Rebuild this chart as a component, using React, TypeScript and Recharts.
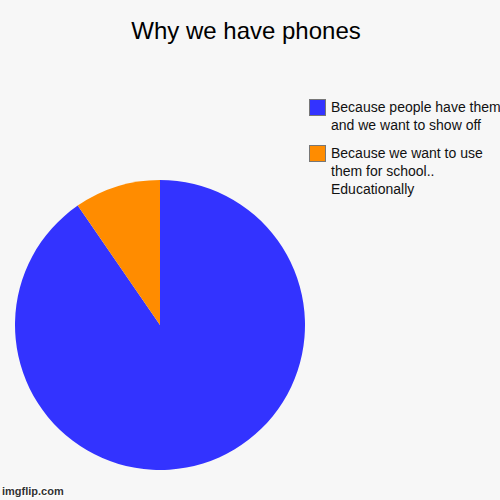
import React from "react";
import { PieChart, Pie, Cell, Legend } from "recharts";

const categories = [
  "Because people have them and we want to show off",
  "Because we want to use them for school.. Educationally",
];
const values = [90.4, 9.6];
const colors = ["#3333ff", "#ff8c00"];
const legendLines = [
  ["Because people have them", "and we want to show off"],
  ["Because we want to use", "them for school..", "Educationally"],
];
const title = "Why we have phones";
const watermark = "imgflip.com";

const data = categories.map((name, i) => ({ name, value: values[i] }));

const FONT = "'Liberation Sans', Arial, Helvetica, sans-serif";

const renderLegend = () => (
  <div style={{ fontFamily: FONT, fontSize: 14, lineHeight: "18px", color: "#111" }}>
    {legendLines.map((lines, i) => (
      <div key={i} style={{ display: "flex", alignItems: "flex-start", marginBottom: 10 }}>
        <div
          style={{
            width: 15,
            height: 15,
            background: colors[i],
            border: "1px solid #777",
            marginTop: 1,
            marginRight: 5,
            flexShrink: 0,
          }}
        />
        <div>
          {lines.map((l, j) => (
            <div key={j} style={{ whiteSpace: "nowrap" }}>{l}</div>
          ))}
        </div>
      </div>
    ))}
  </div>
);

export default function App() {
  return (
    <div style={{ position: "fixed", left: 0, top: 0, width: 500, height: 500, background: "#f7f7f7", overflow: "hidden" }}>
      <div
        style={{
          position: "absolute",
          left: 0,
          top: 16,
          width: 492,
          textAlign: "center",
          fontFamily: FONT,
          fontSize: 24,
          color: "#000",
          lineHeight: "30px",
        }}
      >
        {title}
      </div>
      <PieChart width={500} height={500} margin={{ top: 0, right: 0, bottom: 0, left: 0 }}>
        <Pie
          data={data}
          dataKey="value"
          nameKey="name"
          cx={160}
          cy={325}
          outerRadius={145}
          startAngle={90}
          endAngle={-270}
          stroke="none"
          isAnimationActive={false}
        >
          {data.map((d, i) => (
            <Cell key={d.name} fill={colors[i]} />
          ))}
        </Pie>
        <Legend
          content={renderLegend}
          layout="vertical"
          wrapperStyle={{ position: "absolute", left: 309, top: 98, width: 191 }}
        />
      </PieChart>
      <div
        style={{
          position: "absolute",
          left: 2,
          top: 485,
          fontFamily: FONT,
          fontSize: 11,
          fontWeight: "bold",
          color: "#333",
          lineHeight: "13px",
          textShadow: "0 0 2px #fff, 0 0 2px #fff, 1px 1px 0 #fff, -1px -1px 0 #fff",
        }}
      >
        {watermark}
      </div>
    </div>
  );
}
